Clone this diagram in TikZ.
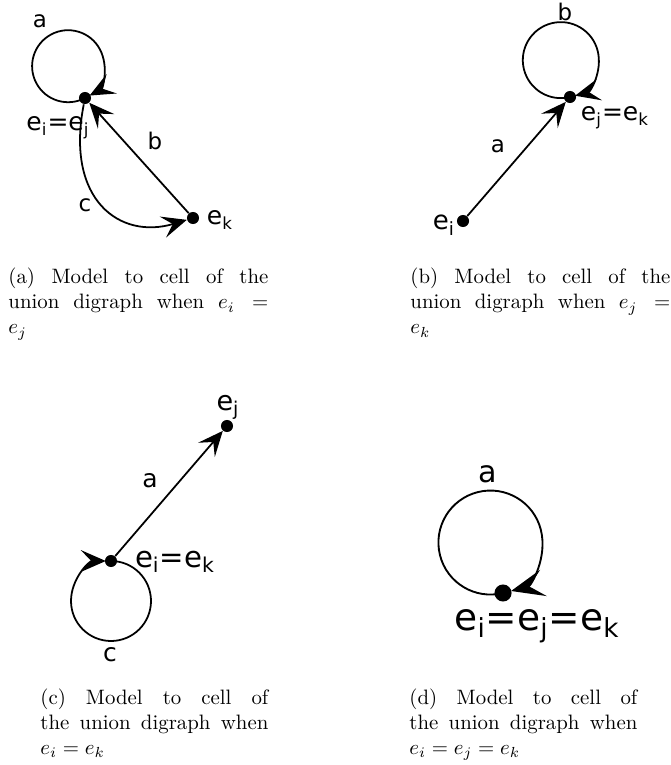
\documentclass[tikz,border=0pt]{standalone}
\usepackage{fontspec}
\newfontfamily\dejavu{DejaVu Sans}
\usetikzlibrary{arrows.meta}

\tikzset{
  vertex/.style={circle, fill=black, inner sep=0pt, minimum size=5.8pt},
  bigvertex/.style={vertex, minimum size=8.2pt},
  edge/.style={line width=0.85pt, -{Stealth[length=12pt, width=10.5pt, inset=5pt]}},
  bigedge/.style={line width=0.9pt, -{Stealth[length=16pt, width=13pt, inset=7pt]}},
  lbl/.style={anchor=base, inner sep=0pt, font=\dejavu\fontsize{#1}{#1}\selectfont},
  subcap/.style={anchor=base west, inner sep=0pt, text width=#1, align=justify,
    font=\fontsize{10}{12}\selectfont\sloppy}
}

\begin{document}
\begin{tikzpicture}[x=0.48pt, y=-0.48pt]
\useasboundingbox (0,0) rectangle (670,765);

% (a) e_i = e_j
\node[vertex] (ij) at (85,98) {};
\node[vertex] (k) at (193,218) {};
\draw[edge, shorten >=2.5pt] (ij.center) arc[start angle=62, end angle=422, radius=36];
\draw[edge] (k) -- (ij);
\draw[edge] (ij) .. controls (65,200) and (120,240) .. (k);
\node[lbl=11] (la) at (40,28) {a};
\node[lbl=11] (lb) at (155,150) {b};
\node[lbl=11] (lc) at (85,212) {c};
\node[lbl=12] (lij) at (58,131) {e\textsubscript{i}=e\textsubscript{j}};
\node[lbl=12] (lk) at (220,225) {e\textsubscript{k}};

% (b) e_j = e_k
\node[vertex] (jk) at (570,97) {};
\node[vertex] (i) at (463,221) {};
\draw[edge, shorten >=2.5pt] (jk.center) arc[start angle=76, end angle=436, radius=38];
\draw[edge] (i) -- (jk);
\node[lbl=11] (lb2) at (565,21) {b};
\node[lbl=11] (la2) at (498,153) {a};
\node[lbl=12.5] (li) at (444,230) {e\textsubscript{i}};
\node[lbl=12] (ljk) at (615,121) {e\textsubscript{j}=e\textsubscript{k}};

% (c) e_i = e_k
\node[vertex] (ik) at (111,561) {};
\node[vertex] (j) at (227,426) {};
\draw[edge, shorten >=2.5pt] (ik.center) arc[start angle=270, end angle=630, radius=40];
\draw[edge] (ik) -- (j);
\node[lbl=13] (lj) at (228,410) {e\textsubscript{j}};
\node[lbl=14] (lik) at (175,567) {e\textsubscript{i}=e\textsubscript{k}};
\node[lbl=12] (la3) at (150,487) {a};
\node[lbl=12] (lc3) at (110,661) {c};

% (d) e_i = e_j = e_k
\node[bigvertex] (ijk) at (503,593) {};
\draw[bigedge, shorten >=4pt] (ijk.center) arc[start angle=76, end angle=436, radius=52];
\node[lbl=14.5] (la4) at (488,482) {a};
\node[lbl=18] (lijk) at (537,630) {e\textsubscript{i}=e\textsubscript{j}=e\textsubscript{k}};

% captions
\node[subcap=124.8pt] (capa) at (8,284)
  {(a) Model to cell of the\linebreak union digraph when $e_i =$\linebreak $e_j$};
\node[subcap=124.8pt] (capb) at (410,284)
  {(b) Model to cell of the\linebreak union digraph when $e_j =$\linebreak $e_k$};
\node[subcap=109.4pt] (capc) at (40,704)
  {(c) Model to cell of\linebreak the union digraph when\linebreak $e_i = e_k$};
\node[subcap=109.4pt] (capd) at (409,704)
  {(d) Model to cell of\linebreak the union digraph when\linebreak $e_i = e_j = e_k$};
\end{tikzpicture}
\end{document}
